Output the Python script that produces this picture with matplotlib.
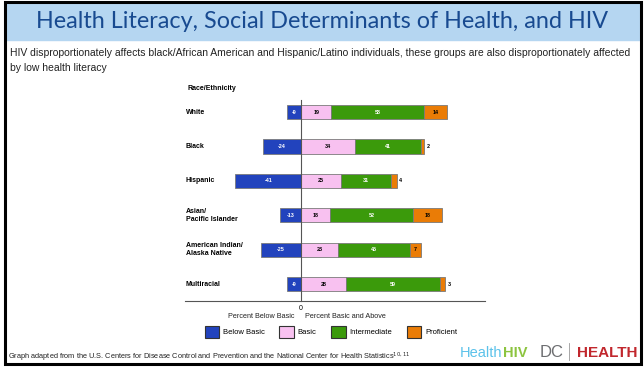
import matplotlib
matplotlib.use("Agg")
import matplotlib.pyplot as plt
from matplotlib.patches import Rectangle, Patch

plt.rcParams['font.family'] = ['Liberation Sans', 'DejaVu Sans']

# -----------------------
# Data
# -----------------------
groups = ["White", "Black", "Hispanic", "Asian/\nPacific Islander",
          "American Indian/\nAlaska Native", "Multiracial"]
below_basic = [-9, -24, -41, -13, -25, -9]
basic = [19, 34, 25, 18, 23, 28]
intermediate = [58, 41, 31, 52, 45, 59]
proficient = [14, 2, 4, 18, 7, 3]

levels = ["Below Basic", "Basic", "Intermediate", "Proficient"]
colors = ["#2243bd", "#f8c1f0", "#3b9a0b", "#ea7c06"]
text_colors = ["white", "black", "white", "black"]

W, H = 644, 367
fig = plt.figure(figsize=(W / 100, H / 100), dpi=100)

def fx(px):
    return px / W

def fy(py):
    return 1 - py / H

# frame and title band
fig.patches.append(Rectangle((fx(6), fy(40)), fx(634), fy(3) - fy(40),
                             transform=fig.transFigure, color="#b5d6f1", zorder=0))
fig.patches.append(Rectangle((fx(5), fy(364)), fx(636), fy(2) - fy(364),
                             transform=fig.transFigure, fill=False,
                             edgecolor="black", linewidth=2.2, zorder=5))

fig.text(0.5, fy(21), "Health Literacy, Social Determinants of Health, and HIV",
         ha="center", va="center", fontsize=16.8, color="#184a90",
         family=["Lato", "DejaVu Sans"])
fig.text(fx(10), fy(53),
         "HIV disproportionately affects black/African American and Hispanic/Latino "
         "individuals, these groups are also disproportionately affected",
         ha="left", va="center", fontsize=7.5, color="#222222")
fig.text(fx(10), fy(68), "by low health literacy",
         ha="left", va="center", fontsize=7.5, color="#222222")

# -----------------------
# Chart
# -----------------------
ax = fig.add_axes([fx(185), fy(301), fx(485) - fx(185), fy(100) - fy(301)])
ax.set_xlim(-72.5, 115)
ax.set_ylim(5.49, -0.35)

ypos = list(range(len(groups)))
bar_h = 0.41
series = [below_basic, basic, intermediate, proficient]
for i, y in enumerate(ypos):
    left = 0
    for k, vals in enumerate(series):
        v = vals[i]
        if v < 0:
            ax.barh(y, v, height=bar_h, color=colors[k], edgecolor="#7a7a7a",
                    linewidth=0.6)
            ax.text(v / 2, y, str(v), ha="center", va="center",
                    fontsize=3.9, color=text_colors[k], weight="bold")
        else:
            ax.barh(y, v, left=left, height=bar_h, color=colors[k],
                    edgecolor="#7a7a7a", linewidth=0.6)
            if v >= 5:
                ax.text(left + v / 2, y, str(v), ha="center", va="center",
                        fontsize=3.9, color=text_colors[k], weight="bold")
            else:
                ax.text(left + v + 1.5, y, str(v), ha="left", va="center",
                        fontsize=3.9, color="black", weight="bold")
            left += v

for s in ["top", "right"]:
    ax.spines[s].set_visible(False)
ax.spines["left"].set_position(("data", 0))
ax.spines["left"].set_color("#555555")
ax.spines["left"].set_linewidth(0.8)
ax.spines["bottom"].set_color("#555555")
ax.spines["bottom"].set_linewidth(0.8)
ax.set_yticks([])
ax.set_xticks([0])
ax.set_xticklabels(["0"], fontsize=5)
ax.tick_params(axis="x", length=0, pad=3)

# row labels
for y, g in zip(ypos, groups):
    ax.text(fx(187) - fx(185), y, g, transform=ax.get_yaxis_transform(),
            ha="left", va="center", fontsize=5, weight="bold", linespacing=1.1)
fig.text(fx(187), fy(89), "Race/Ethnicity", ha="left", va="center",
         fontsize=5, weight="bold")

fig.text(fx(295), fy(317), "Percent Below Basic", ha="right", va="center",
         fontsize=5.2, color="#222222")
fig.text(fx(305), fy(317), "Percent Basic and Above", ha="left", va="center",
         fontsize=5.2, color="#222222")

handles = [Patch(facecolor=c, edgecolor="#333333", linewidth=0.8) for c in colors]
fig.legend(handles, levels, loc="center", bbox_to_anchor=(fx(331), fy(332)),
           ncol=4, frameon=False, fontsize=5.5, handlelength=1.9,
           handleheight=1.9, handletextpad=0.5, columnspacing=1.9,
           borderaxespad=0)

# -----------------------
# Footer
# -----------------------
fig.text(fx(8), fy(357),
         "Graph adapted from the U.S. Centers for Disease Control and Prevention "
         "and the National Center for Health Statistics$^{10,11}$",
         ha="left", va="center", fontsize=5.3, color="#222222")

t1 = fig.text(fx(460), fy(357), "Health", ha="left", va="baseline",
              fontsize=10.5, color="#5cc2ea")
plt.annotate("HIV", xy=(1, 0), xycoords=t1, xytext=(0.3, 0),
             textcoords="offset points", ha="left", va="bottom",
             fontsize=10.5, color="#8cc43f", weight="bold",
             annotation_clip=False)
fig.text(fx(540), fy(357), "DC", ha="left", va="baseline",
         fontsize=12, color="#6d6e71")
fig.lines.append(plt.Line2D([fx(569), fx(569)], [fy(360), fy(343)],
                            transform=fig.transFigure, color="#999999",
                            linewidth=0.6))
fig.text(fx(577), fy(357), "HEALTH", ha="left", va="baseline",
         fontsize=11, color="#c1272d", weight="bold")

fig.savefig("out.png", dpi=100)
